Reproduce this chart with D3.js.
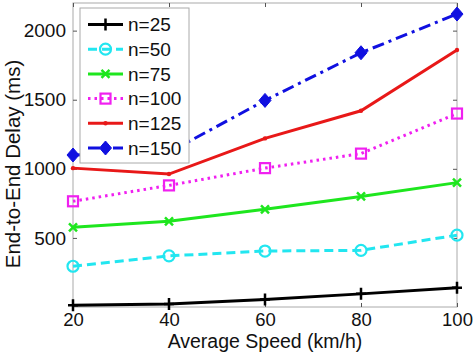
<!DOCTYPE html>
<html><head><meta charset="utf-8">
<script src="https://cdn.jsdelivr.net/npm/d3@7"></script>
<style>body{margin:0;background:#fff}svg{display:block}text{font-family:"Liberation Sans",Arial,Helvetica,sans-serif}</style>
</head><body><svg id="c" width="474" height="356"></svg>
<script>
const speeds = [20, 40, 60, 80, 100];
const xTicks = [20, 40, 60, 80, 100];
const yTicks = [500, 1000, 1500, 2000];
const seriesNames = ["n=25", "n=50", "n=75", "n=100", "n=125", "n=150"];
const n25  = [12, 22, 55, 95, 140];
const n50  = [295, 370, 405, 410, 520];
const n75  = [577, 620, 707, 800, 900];
const n100 = [765, 880, 1005, 1110, 1400];
const n125 = [1005, 962, 1220, 1420, 1860];
const n150 = [1100, 1120, 1495, 1840, 2120];
const seriesValues = [n25, n50, n75, n100, n125, n150];
const colors = ["#000000", "#22e6f0", "#1ee61e", "#f020f0", "#e81818", "#1010e0"];
const dashes = [null, "9,5", null, "2.5,4", null, "12,5,3,5"];
const markers = ["plus", "circle", "x", "square", "dot", "diamond"];

const svg = d3.select("#c");
const L = 73, R = 457, T = 3, B = 307;
const x = d3.scaleLinear().domain([20, 100]).range([L, R]);
const y = d3.scaleLinear().domain([0, 2200]).range([B, T]);

// box
svg.append("rect").attr("x", L).attr("y", T).attr("width", R - L).attr("height", B - T)
  .attr("fill", "none").attr("stroke", "#aaa").attr("stroke-width", 1);

const xa = svg.append("g").attr("transform", `translate(0,${B})`)
  .call(d3.axisBottom(x).tickValues(xTicks).tickSize(-4).tickPadding(6).tickFormat(d3.format("d")));
const xa2 = svg.append("g").attr("transform", `translate(0,${T})`)
  .call(d3.axisTop(x).tickValues(xTicks).tickSize(-4).tickFormat(""));
const ya = svg.append("g").attr("transform", `translate(${L},0)`)
  .call(d3.axisLeft(y).tickValues(yTicks).tickSize(-4).tickPadding(7).tickFormat(d3.format("d")));
const ya2 = svg.append("g").attr("transform", `translate(${R},0)`)
  .call(d3.axisRight(y).tickValues(yTicks).tickSize(-4).tickFormat(""));
[xa, xa2, ya, ya2].forEach(g => {
  g.select(".domain").remove();
  g.selectAll("line").attr("stroke", "#555");
  g.selectAll("text").attr("font-size", 19).attr("fill", "#111");
});
xa.selectAll("text").attr("font-size", 18.5).attr("dy", "0.72em");

svg.append("text").attr("x", (L + R) / 2).attr("y", 348).attr("text-anchor", "middle")
  .attr("font-size", 19.5).attr("fill", "#111").text("Average Speed (km/h)");
svg.append("text").attr("transform", "translate(20,164) rotate(-90)").attr("text-anchor", "middle")
  .attr("font-size", 20.5).attr("fill", "#111").text("End-to-End Delay (ms)");

function drawMarker(g, type, cx, cy, color) {
  if (type === "plus") {
    g.append("path").attr("d", `M${cx-5},${cy}H${cx+5}M${cx},${cy-6}V${cy+6}`).attr("stroke", color).attr("stroke-width", 2.5).attr("fill", "none");
  } else if (type === "circle") {
    g.append("circle").attr("cx", cx).attr("cy", cy).attr("r", 5.5).attr("fill", "none").attr("stroke", color).attr("stroke-width", 2.2);
  } else if (type === "x") {
    g.append("path").attr("d", `M${cx-4},${cy-4}L${cx+4},${cy+4}M${cx-4},${cy+4}L${cx+4},${cy-4}`).attr("stroke", color).attr("stroke-width", 2.5).attr("fill", "none");
  } else if (type === "square") {
    g.append("rect").attr("x", cx - 5).attr("y", cy - 5).attr("width", 10).attr("height", 10).attr("fill", "none").attr("stroke", color).attr("stroke-width", 2.2);
  } else if (type === "dot") {
    g.append("circle").attr("cx", cx).attr("cy", cy).attr("r", 2.2).attr("fill", color);
  } else if (type === "diamond") {
    g.append("path").attr("d", `M${cx},${cy-7}L${cx+6},${cy}L${cx},${cy+7}L${cx-6},${cy}Z`).attr("fill", color).attr("stroke", color).attr("stroke-width", 1);
  }
}

const line = d3.line().x((d, i) => x(speeds[i])).y(d => y(d));
seriesValues.forEach((vals, s) => {
  const g = svg.append("g");
  g.append("path").attr("d", line(vals)).attr("fill", "none").attr("stroke", colors[s])
    .attr("stroke-width", 3).attr("stroke-dasharray", dashes[s]);
  vals.forEach((v, i) => drawMarker(g, markers[s], x(speeds[i]), y(v), colors[s]));
});

// legend
const lg = svg.append("g");
lg.append("rect").attr("x", 80).attr("y", 8).attr("width", 109).attr("height", 155)
  .attr("fill", "#fff").attr("stroke", "#aaa").attr("stroke-width", 1);
seriesNames.forEach((name, s) => {
  const cy = 24.5 + s * 24.7;
  lg.append("line").attr("x1", 88).attr("x2", 123).attr("y1", cy).attr("y2", cy)
    .attr("stroke", colors[s]).attr("stroke-width", 3).attr("stroke-dasharray", dashes[s]);
  drawMarker(lg, markers[s], 105.5, cy, colors[s]);
  lg.append("text").attr("x", 128).attr("y", cy).attr("dy", "0.36em").attr("font-size", 19)
    .attr("fill", "#111").text(name);
});
</script></body></html>
